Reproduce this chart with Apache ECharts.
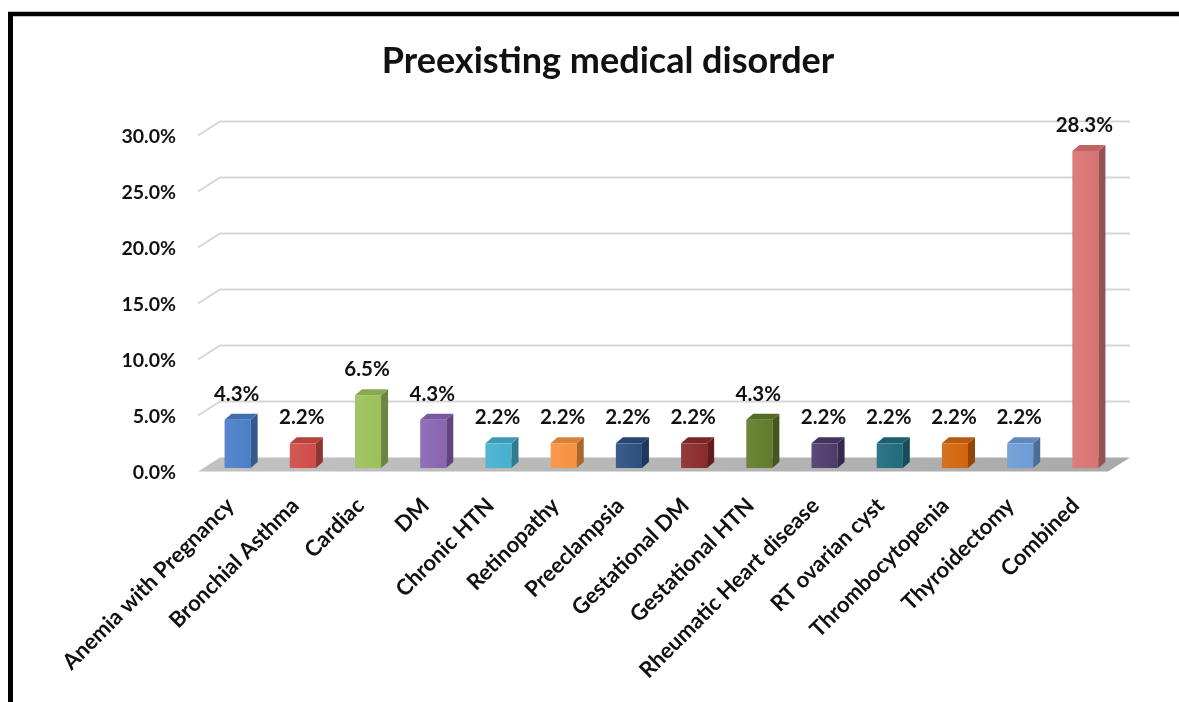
<!DOCTYPE html>
<html>
<head>
<meta charset="utf-8">
<title>Preexisting medical disorder</title>
<script src="https://cdn.jsdelivr.net/npm/echarts@6/dist/echarts.min.js"></script>
<style>
  html, body { margin: 0; padding: 0; background: #ffffff; }
  #chart { width: 1179px; height: 702px; }
</style>
</head>
<body>
<div id="chart"></div>
<script>
// Categories and their shares (%)
const categories = [
  'Anemia with Pregnancy', 'Bronchial Asthma', 'Cardiac', 'DM', 'Chronic HTN',
  'Retinopathy', 'Preeclampsia', 'Gestational DM', 'Gestational HTN',
  'Rheumatic Heart disease', 'RT ovarian cyst', 'Thrombocytopenia',
  'Thyroidectomy', 'Combined'
];
const values = [4.3, 2.2, 6.5, 4.3, 2.2, 2.2, 2.2, 2.2, 4.3, 2.2, 2.2, 2.2, 2.2, 28.3];
const barColors = [
  '#4a7ec6', '#cf4b47', '#9bc05a', '#8964b2', '#45b0cf', '#f6913f', '#2b4f80',
  '#8a2b2a', '#607c2b', '#4d3a6c', '#1f6b7c', '#d1650d', '#6c9bd6', '#d87372'
];
// Value axis ticks (%)
const yTicks = [0, 5, 10, 15, 20, 25, 30];

const FONT = 'Lato, "Liberation Sans", sans-serif';

function shade(hex, f) {
  const n = parseInt(hex.slice(1), 16);
  let r = (n >> 16) & 255, g = (n >> 8) & 255, b = n & 255;
  const m = (c) => f < 0 ? Math.round(c * (1 + f)) : Math.round(c + (255 - c) * f);
  r = m(r); g = m(g); b = m(b);
  return 'rgb(' + r + ',' + g + ',' + b + ')';
}

// perspective offsets of the walls (front -> back)
const DEPTH_X = 22, DEPTH_Y = -14;
// column depth
const BAR_DX = 7, BAR_DY = -6;

const chart = echarts.init(document.getElementById('chart'), null, { renderer: 'canvas' });

const option = {
  animation: false,
  backgroundColor: '#ffffff',
  title: {
    text: 'Preexisting medical disorder',
    left: 603, top: 38, textAlign: 'center',
    textStyle: { fontFamily: FONT, fontSize: 36, fontWeight: 'bold', color: '#111' }
  },
  graphic: [
    { type: 'line', shape: { x1: 8, y1: 14, x2: 1179, y2: 14 }, style: { stroke: '#000', lineWidth: 4.5 } },
    { type: 'line', shape: { x1: 10.5, y1: 12, x2: 10.5, y2: 702 }, style: { stroke: '#000', lineWidth: 5 } }
  ],
  grid: [
    // back wall
    { left: 220, right: 49, top: 121.5, bottom: 244.5, outerBoundsMode: 'none' },
    // front plane (tick and category labels)
    { left: 198, right: 71, top: 136.5, bottom: 229, outerBoundsMode: 'none' },
    // column plane
    { left: 205, right: 61, top: 132, bottom: 234, outerBoundsMode: 'none' }
  ],
  xAxis: [
    { gridIndex: 0, type: 'category', data: categories, show: false },
    {
      gridIndex: 1, type: 'category', data: categories,
      axisLine: { show: false }, axisTick: { show: false },
      axisLabel: {
        interval: 0, rotate: 45, margin: 29,
        fontFamily: FONT, fontSize: 22, fontWeight: 'bold', color: '#111'
      }
    },
    { gridIndex: 2, type: 'category', data: categories, show: false }
  ],
  yAxis: [
    { gridIndex: 0, type: 'value', min: 0, max: 30, interval: 5, show: false },
    {
      gridIndex: 1, type: 'value', min: 0, max: 30, interval: 5,
      axisLine: { show: false }, axisTick: { show: false }, splitLine: { show: false },
      axisLabel: {
        margin: 22, fontFamily: FONT, fontSize: 19.5, fontWeight: 'bold', color: '#111',
        formatter: (v) => v.toFixed(1) + '%'
      }
    },
    { gridIndex: 2, type: 'value', min: 0, max: 30, interval: 5, show: false }
  ],
  series: [
    {
      // floor and wall gridlines
      type: 'custom', xAxisIndex: 0, yAxisIndex: 0, silent: true, z: 1,
      data: yTicks.map((t) => [0, t]),
      renderItem: function (params, api) {
        const cs = params.coordSys;
        const y = api.coord([0, api.value(1)])[1];
        const xl = cs.x, xr = cs.x + cs.width;
        if (api.value(1) === 0) {
          return {
            type: 'polygon',
            shape: { points: [[xl, y], [xr, y], [xr - DEPTH_X, y - DEPTH_Y], [xl - DEPTH_X, y - DEPTH_Y]] },
            style: {
              fill: new echarts.graphic.LinearGradient(0, 0, 1, 0, [
                { offset: 0, color: '#c2c2c2' }, { offset: 1, color: '#a9a9a9' }
              ])
            }
          };
        }
        return {
          type: 'polyline',
          shape: { points: [[xl - DEPTH_X, y - DEPTH_Y], [xl, y], [xr, y]] },
          style: { stroke: '#d6d6d6', lineWidth: 2, fill: null }
        };
      }
    },
    {
      // 3D columns with value labels
      type: 'custom', xAxisIndex: 2, yAxisIndex: 2, z: 3,
      data: values.map((v, i) => [i, v]),
      renderItem: function (params, api) {
        const i = api.value(0), v = api.value(1);
        const base = api.coord([i, 0]);
        const top = api.coord([i, v]);
        const bw = api.size([1, 0])[0] * 0.4;
        const x0 = base[0] - bw / 2, x1 = base[0] + bw / 2;
        const yb = base[1], yt = top[1];
        const c = barColors[i];
        return {
          type: 'group',
          children: [
            {
              type: 'polygon',
              shape: { points: [[x0, yb], [x1, yb], [x1, yt], [x0, yt]] },
              style: {
                fill: new echarts.graphic.LinearGradient(0, 0, 1, 0, [
                  { offset: 0, color: shade(c, 0.08) }, { offset: 1, color: c }
                ])
              }
            },
            {
              type: 'polygon',
              shape: { points: [[x1, yb], [x1 + BAR_DX, yb + BAR_DY], [x1 + BAR_DX, yt + BAR_DY], [x1, yt]] },
              style: { fill: shade(c, -0.3) }
            },
            {
              type: 'polygon',
              shape: { points: [[x0, yt], [x1, yt], [x1 + BAR_DX, yt + BAR_DY], [x0 + BAR_DX, yt + BAR_DY]] },
              style: { fill: shade(c, -0.12) }
            },
            {
              type: 'text',
              style: {
                text: v.toFixed(1) + '%',
                x: base[0] - 1, y: yt - 15,
                align: 'center', verticalAlign: 'bottom',
                fontFamily: FONT, fontSize: 20.5, fontWeight: 'bold', fill: '#111'
              }
            }
          ]
        };
      }
    }
  ]
};

chart.setOption(option);
</script>
</body>
</html>
